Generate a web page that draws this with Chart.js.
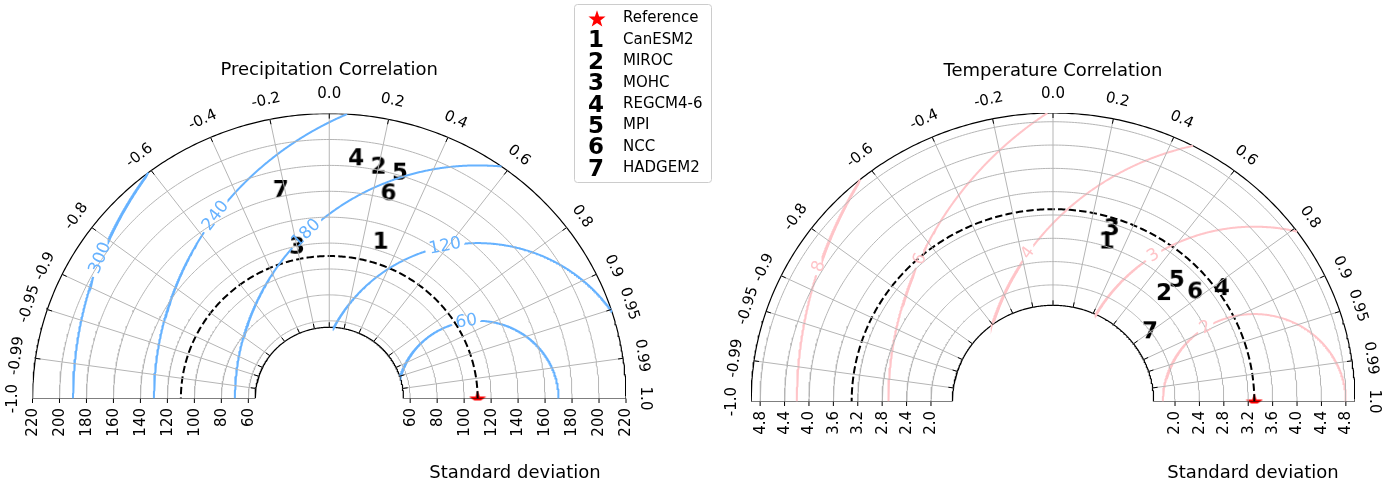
<!DOCTYPE html>
<html><head><meta charset="utf-8">
<script src="https://cdn.jsdelivr.net/npm/chart.js@4.4.1/dist/chart.umd.min.js"></script>
<style>
html,body{margin:0;padding:0;background:#fff;}
#wrap{position:relative;width:1388px;height:486px;background:#fff;}
canvas{position:absolute;left:0;top:0;}
</style></head><body>
<div id="wrap">
<canvas id="c1" width="1388" height="486"></canvas>
<canvas id="c2" width="1388" height="486"></canvas>
</div>
<script>
// ---------------- data ----------------
const models = ['CanESM2','MIROC','MOHC','REGCM4-6','MPI','NCC','HADGEM2'];
const modelMarkers = ['1','2','3','4','5','6','7'];
const corrTicks = [1.0,0.99,0.95,0.9,0.8,0.6,0.4,0.2,0.0,-0.2,-0.4,-0.6,-0.8,-0.9,-0.95,-0.99,-1.0];
const corrTickLabels = ['1.0','0.99','0.95','0.9','0.8','0.6','0.4','0.2','0.0','-0.2','-0.4','-0.6','-0.8','-0.9','-0.95','-0.99','-1.0'];

const precipRef = 110;
const precipStd  = [126.9,182.7,119.6,186.6,182.1,164.4,165.0];
const precipCorr = [0.30,0.20,-0.20,0.107,0.288,0.267,-0.218];
const precipStdTicks = [60,80,100,120,140,160,180,200,220];
const precipStdTickLabels = ['60','80','100','120','140','160','180','200','220'];
const precipRmsLevels = [60,120,180,240,300];
const precipRmsLabels = ['60','120','180','240','300'];
const precipRange = [55,220];

const tempRef = 3.3;
const tempStd  = [2.883,2.603,3.126,3.382,2.911,2.998,1.994];
const tempCorr = [0.305,0.699,0.308,0.818,0.697,0.777,0.797];
const tempStdTicks = [2.0,2.4,2.8,3.2,3.6,4.0,4.4,4.8];
const tempStdTickLabels = ['2.0','2.4','2.8','3.2','3.6','4.0','4.4','4.8'];
const tempRmsLevels = [1.5,3.0,4.5,6.0,7.5];
const tempRmsLabels = ['2','3','4','6','8'];
const tempRange = [1.65,4.95];

// ---------------- helpers ----------------
const FONT = '"DejaVu Sans", "Liberation Sans", sans-serif';
const GRID = '#b5b5b5';
const DEG = Math.PI/180;
const TICKFONT = '15px '+FONT;
Chart.defaults.font.family = FONT;

function drawStar(g,cx,cy,ro,ri,color){
  g.beginPath();
  for(let i=0;i<10;i++){const r=i%2?ri:ro;const a=-Math.PI/2+i*Math.PI/5;g.lineTo(cx+r*Math.cos(a),cy+r*Math.sin(a));}
  g.closePath(); g.fillStyle=color; g.fill();
}
function starCanvas(size){
  const c=document.createElement('canvas'); c.width=size; c.height=size;
  drawStar(c.getContext('2d'),size/2,size/2+size*0.05,size/2,size/2*0.4,'#ff0000'); return c;
}
function digitCanvas(d){
  const c=document.createElement('canvas'); c.width=30; c.height=32;
  const g=c.getContext('2d'); g.font='bold 23px '+FONT; g.textAlign='center'; g.textBaseline='middle';
  g.fillStyle='#000'; g.fillText(d,15,17); return c;
}
const measureCtx = document.createElement('canvas').getContext('2d');

function buildTaylor(id, cfg){
  const {ref, stds, corrs, stdTicks, stdTickLabels, rmsLevels, rmsLabels, rmsAngles, range, rmsColor, pad, title, titleY, xlabel} = cfg;
  const [rin, rout] = range;
  const W=1388, H=486;
  const sx = (W - pad.left - pad.right)/(2*rout);
  const sy = (H - pad.top - pad.bottom)/rout;
  const datasets = [];
  const line = (pts,color,width,dash)=>datasets.push({data:pts,showLine:true,borderColor:color,borderWidth:width,borderDash:dash||[],pointRadius:0,pointHoverRadius:0,fill:false,tension:0});
  const arc = (s,n=300)=>{const p=[];for(let i=0;i<=n;i++){const t=Math.PI*i/n;p.push({x:s*Math.cos(t),y:s*Math.sin(t)});}return p;};
  // grid arcs
  stdTicks.forEach(s=>{ if(s<rout-1e-9 && s>rin) line(arc(s),GRID,1); });
  // radial grid
  corrTicks.forEach(c=>{ if(Math.abs(c)<1){const t=Math.acos(c); line([{x:rin*Math.cos(t),y:rin*Math.sin(t)},{x:rout*Math.cos(t),y:rout*Math.sin(t)}],GRID,1);} });
  // RMS contours
  measureCtx.font='17px '+FONT;
  const cl=v=>Math.max(-1,Math.min(1,v));
  rmsLevels.forEach((L,k)=>{
    const p0=Math.acos(cl((rout*rout-ref*ref-L*L)/(2*ref*L)));
    const p1=Math.acos(cl((rin*rin-ref*ref-L*L)/(2*ref*L)));
    const la=rmsAngles[k]*DEG;
    const tw=measureCtx.measureText(rmsLabels[k]).width;
    const speed=L*Math.sqrt(sx*sx*Math.sin(la)**2+sy*sy*Math.cos(la)**2);
    const g=(tw/2+4)/speed;
    const seg=(a,b)=>{ if(b<=a) return; const n=200,p=[]; for(let i=0;i<=n;i++){const f=a+(b-a)*i/n;p.push({x:ref+L*Math.cos(f),y:L*Math.sin(f)});} line(p,rmsColor,2); };
    seg(p0,Math.min(p1,la-g)); seg(Math.max(p0,la+g),p1);
  });
  // frame
  line(arc(rout),'#000',1.2);
  line(arc(rin),'#000',1.2);
  line([{x:-rout,y:0},{x:-rin,y:0}],'#000',1.2);
  line([{x:rin,y:0},{x:rout,y:0}],'#000',1.2);
  // reference arc
  line(arc(ref),'#000',2,[7.4,3.2]);
  // reference star
  datasets.push({data:[{x:ref,y:0}],pointStyle:starCanvas(18),pointRadius:8,showLine:false,clip:{left:10,right:10,top:10,bottom:2}});
  // models
  stds.forEach((s,i)=>{ const t=Math.acos(corrs[i]); datasets.push({label:models[i],data:[{x:s*Math.cos(t),y:s*Math.sin(t)}],pointStyle:digitCanvas(modelMarkers[i]),pointRadius:8,showLine:false}); });

  const deco = {id:'deco_'+id, afterDraw(chart){
    const ctx=chart.ctx, xs=chart.scales.x, ys=chart.scales.y;
    const P=(x,y)=>[xs.getPixelForValue(x),ys.getPixelForValue(y)];
    const [cx,cy]=P(0,0);
    ctx.save();
    ctx.strokeStyle='#000'; ctx.lineWidth=1; ctx.fillStyle='#000';
    // correlation ticks + labels
    corrTicks.forEach((c,i)=>{
      const t=Math.acos(c);
      const [ox,oy]=P(rout*Math.cos(t),rout*Math.sin(t));
      const [ix,iy]=P(rin*Math.cos(t),rin*Math.sin(t));
      let ux=ox-cx,uy=oy-cy; const n=Math.hypot(ux,uy); ux/=n; uy/=n;
      let vx=ix-cx,vy=iy-cy; const m=Math.hypot(vx,vy); vx/=m; vy/=m;
      if(Math.abs(c)<1){
        ctx.beginPath(); ctx.moveTo(ox,oy); ctx.lineTo(ox-ux*5,oy-uy*5);
        ctx.moveTo(ix,iy); ctx.lineTo(ix+vx*5,iy+vy*5); ctx.stroke();
      }
      const off = 19;
      const lx=ox+ux*off, ly=oy+uy*off;
      const ang=Math.atan2(-(oy-cy),ox-cx);
      ctx.save(); ctx.translate(lx,ly); ctx.rotate(Math.PI/2-ang);
      ctx.font=TICKFONT; ctx.textAlign='center'; ctx.textBaseline='middle';
      ctx.fillText(corrTickLabels[i],0,0); ctx.restore();
    });
    // std ticks + labels
    stdTicks.forEach((s,i)=>{
      [-1,1].forEach(sg=>{
        const [px,py]=P(sg*s,0);
        ctx.beginPath(); ctx.moveTo(px,py); ctx.lineTo(px,py+4.5); ctx.stroke();
        ctx.save(); ctx.translate(px,py+9.5); ctx.rotate(-Math.PI/2);
        ctx.font=TICKFONT; ctx.textAlign='right'; ctx.textBaseline='middle';
        ctx.fillText(stdTickLabels[i],0,0.5); ctx.restore();
      });
    });
    // contour labels
    rmsLevels.forEach((L,k)=>{
      const la=rmsAngles[k]*DEG;
      const [px,py]=P(ref+L*Math.cos(la),L*Math.sin(la));
      const tx=-Math.sin(la)*sx, ty=-Math.cos(la)*sy;
      let rot=Math.atan2(ty,tx);
      if(rot>Math.PI/2) rot-=Math.PI; if(rot<-Math.PI/2) rot+=Math.PI;
      ctx.save(); ctx.translate(px,py); ctx.rotate(rot);
      ctx.font='17px '+FONT; ctx.textAlign='center'; ctx.textBaseline='middle'; ctx.fillStyle=rmsColor;
      ctx.fillText(rmsLabels[k],0,0); ctx.restore();
    });
    // title and x label
    ctx.font='18px '+FONT; ctx.textAlign='center'; ctx.textBaseline='middle'; ctx.fillStyle='#000';
    ctx.fillText(title, cx, titleY);
    ctx.fillText('Standard deviation', xlabel[0], xlabel[1]);
    if(cfg.legend){
      const lx=574.5, ly=4.5, lw=137, lh=178, r=3;
      ctx.beginPath();
      ctx.moveTo(lx+r,ly); ctx.lineTo(lx+lw-r,ly); ctx.quadraticCurveTo(lx+lw,ly,lx+lw,ly+r);
      ctx.lineTo(lx+lw,ly+lh-r); ctx.quadraticCurveTo(lx+lw,ly+lh,lx+lw-r,ly+lh);
      ctx.lineTo(lx+r,ly+lh); ctx.quadraticCurveTo(lx,ly+lh,lx,ly+lh-r);
      ctx.lineTo(lx,ly+r); ctx.quadraticCurveTo(lx,ly,lx+r,ly); ctx.closePath();
      ctx.fillStyle='rgba(255,255,255,0.85)'; ctx.fill(); ctx.strokeStyle='#cccccc'; ctx.lineWidth=1; ctx.stroke();
      const rowY=i=>18.5+21.4*i;
      drawStar(ctx,597,rowY(0)+0.8,9,3.6,'#ff0000');
      ctx.fillStyle='#000'; ctx.textAlign='left'; ctx.textBaseline='middle';
      ctx.font='15px '+FONT; ctx.fillText('Reference',623,rowY(0));
      models.forEach((m,i)=>{
        ctx.font='bold 23px '+FONT; ctx.textAlign='center'; ctx.fillText(modelMarkers[i],596,rowY(i+1)+1.5);
        ctx.font='15px '+FONT; ctx.textAlign='left'; ctx.fillText(m,623,rowY(i+1));
      });
    }
    ctx.restore();
  }};

  return new Chart(document.getElementById(id),{
    type:'scatter',
    data:{datasets},
    options:{responsive:false,animation:false,events:[],devicePixelRatio:1,
      layout:{padding:pad},
      plugins:{legend:{display:false},tooltip:{enabled:false},title:{display:false}},
      scales:{x:{type:'linear',min:-rout,max:rout,display:false},y:{type:'linear',min:0,max:rout,display:false}}},
    plugins:[deco]
  });
}

buildTaylor('c1',{ref:precipRef,stds:precipStd,corrs:precipCorr,stdTicks:precipStdTicks,stdTickLabels:precipStdTickLabels,
  rmsLevels:precipRmsLevels,rmsLabels:precipRmsLabels,rmsAngles:[98,101.6,134.9,144,158.8],range:precipRange,rmsColor:'#66b2ff',
  pad:{left:32.5,right:762,top:113.6,bottom:87.5},title:'Precipitation Correlation',titleY:70.5,xlabel:[515,473],legend:true});
buildTaylor('c2',{ref:tempRef,stds:tempStd,corrs:tempCorr,stdTicks:tempStdTicks,stdTickLabels:tempStdTickLabels,
  rmsLevels:tempRmsLevels,rmsLabels:tempRmsLabels,rmsAngles:[122,123.4,145.5,156,162],range:tempRange,rmsColor:'#ffc4c8',
  pad:{left:751,right:33,top:113,bottom:84.5},title:'Temperature Correlation',titleY:71.5,xlabel:[1253,473],legend:false});
</script>
</body></html>
